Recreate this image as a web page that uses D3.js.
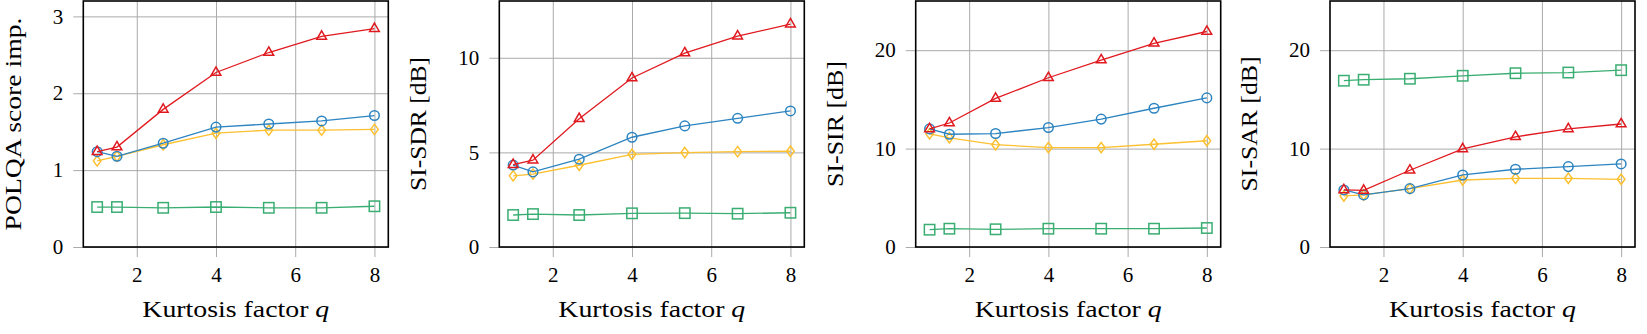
<!DOCTYPE html>
<html>
<head>
<meta charset="utf-8">
<script src="https://cdn.jsdelivr.net/npm/d3@7"></script>
<style>
  body { margin: 0; background: #fff; }
</style>
</head>
<body>
<svg id="fig" width="1647" height="334"></svg>
<script>
// kurtosis factors shared by every panel
var q = [1, 1.5, 2.667, 4, 5.333, 6.667, 8];
var xTicks = [2, 4, 6, 8];

// POLQA score improvement
var polqaRed = [1.24, 1.30, 1.79, 2.27, 2.53, 2.74, 2.84];
var polqaBlue = [1.24, 1.18, 1.35, 1.56, 1.60, 1.64, 1.71];
var polqaYellow = [1.12, 1.18, 1.33, 1.48, 1.52, 1.52, 1.53];
var polqaGreen = [0.52, 0.52, 0.51, 0.52, 0.51, 0.51, 0.53];

// SI-SDR [dB]
var sdrRed = [4.35, 4.59, 6.78, 8.93, 10.25, 11.14, 11.78];
var sdrBlue = [4.33, 3.97, 4.64, 5.80, 6.40, 6.80, 7.19];
var sdrYellow = [3.76, 3.85, 4.32, 4.90, 4.99, 5.04, 5.06];
var sdrGreen = [1.69, 1.74, 1.69, 1.78, 1.79, 1.76, 1.81];

// SI-SIR [dB]
var sirRed = [12.0, 12.6, 15.1, 17.2, 19.0, 20.7, 21.9];
var sirBlue = [12.0, 11.46, 11.53, 12.14, 13.0, 14.1, 15.15];
var sirYellow = [11.5, 11.1, 10.4, 10.1, 10.1, 10.44, 10.8];
var sirGreen = [1.76, 1.86, 1.80, 1.86, 1.86, 1.86, 1.93];

// SI-SAR [dB]
var sarRed = [5.8, 5.75, 7.8, 9.97, 11.2, 12.0, 12.5];
var sarBlue = [5.8, 5.29, 5.93, 7.32, 7.9, 8.17, 8.44];
var sarYellow = [5.19, 5.29, 5.93, 6.81, 6.98, 6.98, 6.88];
var sarGreen = [16.9, 17.0, 17.1, 17.4, 17.66, 17.73, 17.97];

var yLabels = ["POLQA score imp.", "SI-SDR [dB]", "SI-SIR [dB]", "SI-SAR [dB]"];
var yMax = [3.2, 13, 25, 25];
var yTicks = [[0, 1, 2, 3], [0, 5, 10], [0, 10, 20], [0, 10, 20]];

var panels = [
  { green: polqaGreen, yellow: polqaYellow, blue: polqaBlue, red: polqaRed },
  { green: sdrGreen, yellow: sdrYellow, blue: sdrBlue, red: sdrRed },
  { green: sirGreen, yellow: sirYellow, blue: sirBlue, red: sirRed },
  { green: sarGreen, yellow: sarYellow, blue: sarBlue, red: sarRed }
];

var colors = { green: "#3aae72", yellow: "#fdc030", blue: "#2c84c1", red: "#e0191f" };
var order = ["green", "yellow", "blue", "red"];

var FONT = "'Liberation Serif', 'DejaVu Serif', serif";
var lefts = [83.3, 499.3, 915.7, 1330];
var pw = 305, plotTop = 1, plotBottom = 247, ph = plotBottom - plotTop;
// label lengths measured on the reference (Computer Modern is wider than Times)
var yLabelLen = [213, 134, 126, 135];
var xLabelLen = 187;

var svg = d3.select("#fig");

function marker(g, kind, cx, cy) {
  if (kind == "blue") {
    g.append("circle").attr("cx", cx).attr("cy", cy).attr("r", 4.8);
  } else if (kind == "green") {
    g.append("rect").attr("x", cx - 5.2).attr("y", cy - 5.2).attr("width", 10.4).attr("height", 10.4);
  } else if (kind == "red") {
    var r = 5.6;
    g.append("path").attr("d", "M" + cx + "," + (cy - r) + "L" + (cx + r * 0.866) + "," + (cy + r / 2) + "L" + (cx - r * 0.866) + "," + (cy + r / 2) + "Z");
  } else {
    g.append("path").attr("d", "M" + cx + "," + (cy - 5.2) + "L" + (cx + 3.8) + "," + cy + "L" + cx + "," + (cy + 5.2) + "L" + (cx - 3.8) + "," + cy + "Z");
  }
}

// stretch a label horizontally to the reference width
function stretch(t, tx, ty, rot, len) {
  var bw = t.node().getBBox().width;
  t.attr("transform", "translate(" + tx + "," + ty + ")" + (rot ? " rotate(-90)" : "") + " scale(" + (len / bw) + ",1)");
}

panels.forEach(function (p, i) {
  var g = svg.append("g").attr("transform", "translate(" + lefts[i] + "," + plotTop + ")");
  var x = d3.scaleLinear().domain([0.65, 8.35]).range([0, pw]);
  var y = d3.scaleLinear().domain([0, yMax[i]]).range([ph, 0]);

  // grid + ticks (gridlines run 10px past the frame like in pgfplots)
  var ya = g.append("g").call(d3.axisLeft(y).tickValues(yTicks[i]).tickSize(10).tickPadding(10).tickFormat(d3.format("d")));
  ya.select(".domain").remove();
  ya.selectAll("line").attr("x1", pw).attr("stroke", "#aaa").attr("stroke-width", 1);

  var xa = g.append("g").attr("transform", "translate(0," + ph + ")")
    .call(d3.axisBottom(x).tickValues(xTicks).tickSize(10).tickPadding(10).tickFormat(d3.format("d")));
  xa.select(".domain").remove();
  xa.selectAll("line").attr("y1", -ph).attr("stroke", "#aaa").attr("stroke-width", 1);

  ya.attr("font-family", FONT).attr("font-size", 21);
  xa.attr("font-family", FONT).attr("font-size", 21);
  ya.selectAll("text").attr("fill", "#000");
  xa.selectAll("text").attr("fill", "#000");

  var line = d3.line().x(function (d, j) { return x(q[j]); }).y(function (d) { return y(d); });

  order.forEach(function (k) {
    var s = g.append("g").attr("fill", "none").attr("stroke", colors[k]);
    s.append("path").datum(p[k]).attr("d", line).attr("stroke-width", 1.3);
    var m = s.append("g").attr("stroke-width", 1.5);
    p[k].forEach(function (v, j) { marker(m, k, x(q[j]), y(v)); });
  });

  g.append("rect").attr("x", 0).attr("y", 0).attr("width", pw).attr("height", ph)
    .attr("fill", "none").attr("stroke", "#000").attr("stroke-width", 1.6);

  // axis labels
  var xl = g.append("text").attr("text-anchor", "middle")
    .attr("font-family", FONT).attr("font-size", 24);
  xl.append("tspan").text("Kurtosis factor ");
  xl.append("tspan").attr("font-style", "italic").text("q");
  stretch(xl, pw / 2, 317 - plotTop, false, xLabelLen);

  var minLeft = d3.min(ya.selectAll("text").nodes(), function (n) {
    return n.getBBox().x;
  });
  var yl = g.append("text").attr("text-anchor", "middle")
    .attr("font-family", FONT).attr("font-size", 24).text(yLabels[i]);
  stretch(yl, minLeft - 10 - 22, ph / 2, true, yLabelLen[i]);
});
</script>
</body>
</html>
